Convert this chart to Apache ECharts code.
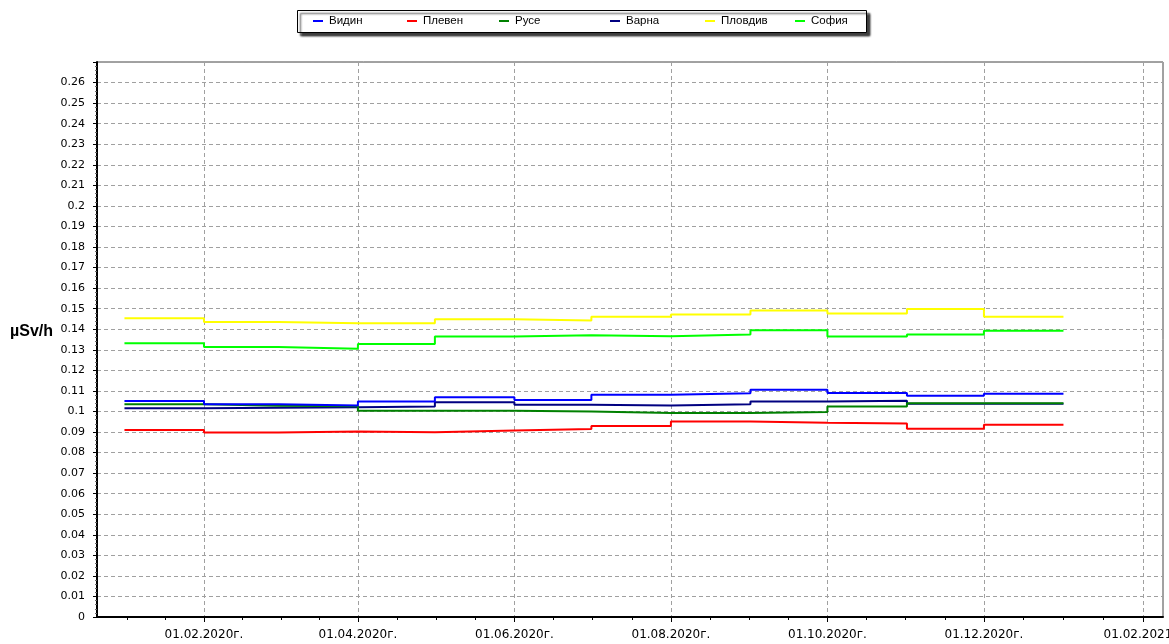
<!DOCTYPE html>
<html lang="bg">
<head>
    <meta charset="UTF-8">
    <title>Радиационен фон</title>
    <script src="https://cdn.jsdelivr.net/npm/echarts@6/dist/echarts.min.js"></script>
    <style>
        html, body { margin: 0; padding: 0; background: #fff; }
    </style>
</head>
<body>
<div id="main" style="width: 1169px;height:644px;"></div>

<script type="text/javascript">
    // месечни стойности (µSv/h), от 01.2020 до 12.2020
    var months = ['2020-01-01', '2020-02-01', '2020-03-01', '2020-04-01', '2020-05-01', '2020-06-01',
        '2020-07-01', '2020-08-01', '2020-09-01', '2020-10-01', '2020-11-01', '2020-12-01'];
    var lastDate = '2021-01-01';

    var names = ['Видин', 'Плевен', 'Русе', 'Варна', 'Пловдив', 'София'];
    var colors = ['#0000ff', '#ff0000', '#008000', '#000080', '#ffff00', '#00ff00'];

    var vidin   = [0.1051, 0.1035, 0.1029, 0.1048, 0.1069, 0.1056, 0.1081, 0.1088, 0.1105, 0.1090, 0.1076, 0.1086];
    var pleven  = [0.0910, 0.0897, 0.0903, 0.0899, 0.0907, 0.0914, 0.0929, 0.0951, 0.0945, 0.0941, 0.0916, 0.0935];
    var ruse    = [0.1035, 0.1028, 0.1025, 0.1003, 0.1003, 0.1000, 0.0992, 0.0992, 0.0997, 0.1024, 0.1040, 0.1040];
    var varna   = [0.1016, 0.1018, 0.1020, 0.1024, 0.1045, 0.1032, 0.1029, 0.1035, 0.1048, 0.1052, 0.1037, 0.1037];
    var plovdiv = [0.1453, 0.1435, 0.1429, 0.1429, 0.1448, 0.1443, 0.1461, 0.1472, 0.1491, 0.1477, 0.1498, 0.1461];
    var sofia   = [0.1332, 0.1314, 0.1305, 0.1328, 0.1364, 0.1371, 0.1366, 0.1374, 0.1395, 0.1364, 0.1374, 0.1392];
    var values = [vidin, pleven, ruse, varna, plovdiv, sofia];

    // надписи по оста X
    var tickDates = ['2020-02-01', '2020-04-01', '2020-06-01', '2020-08-01', '2020-10-01', '2020-12-01', '2021-02-01'];

    function ts(s) {
        var p = s.split('-');
        return Date.UTC(+p[0], +p[1] - 1, +p[2]);
    }
    function pad(n) { return n < 10 ? '0' + n : '' + n; }

    var DAY = 86400000;
    var xMin = ts('2020-02-01') - 41.7 * DAY;
    var xMax = ts('2021-02-01') + 7.8 * DAY;

    var major = tickDates.map(ts);
    var minor = [];
    var q0 = (major[1] - major[0]) / 4;
    minor.push(major[0] - 2 * q0, major[0] - q0);
    for (var i = 0; i < major.length - 1; i++) {
        var q = (major[i + 1] - major[i]) / 4;
        for (var k = 1; k < 4; k++) minor.push(major[i] + q * k);
    }

    var series = [];
    for (var s = 0; s < names.length; s++) {
        var d = [];
        for (var m = 0; m < months.length; m++) d.push([ts(months[m]), values[s][m]]);
        d.push([ts(lastDate), values[s][months.length - 1]]);
        series.push({
            name: names[s],
            type: 'line',
            step: 'end',
            showSymbol: false,
            symbol: 'none',
            z: 10 - s,
            lineStyle: { width: 2, color: colors[s] },
            itemStyle: { color: colors[s] },
            data: d
        });
    }

    var font = 'Liberation Sans, Arial, sans-serif';
    var axisFont = 'DejaVu Sans, sans-serif';

    // легенда: по един елемент на позиция, обща рамка отдолу
    var legendX = [313, 407, 499, 610, 705, 795];
    var legends = names.map(function (n, idx) {
        return {
            data: [n],
            left: legendX[idx],
            top: 15,
            padding: 0,
            icon: 'rect',
            itemWidth: 10,
            itemHeight: 2,
            z: 6,
            textStyle: { fontFamily: font, fontSize: 11.5, color: '#000', padding: [0, 0, 0, 1] }
        };
    });

    var myChart = echarts.init(document.getElementById('main'));
    var option = {
        animation: false,
        backgroundColor: '#fff',
        textStyle: { fontFamily: font },
        legend: legends,
        graphic: [{
            type: 'rect',
            left: 297,
            top: 10,
            z: 1,
            shape: { x: 0, y: 0, width: 569, height: 22 },
            style: {
                fill: '#fff', stroke: '#000', lineWidth: 1,
                shadowBlur: 2, shadowOffsetX: 3, shadowOffsetY: 3, shadowColor: 'rgba(0,0,0,0.75)'
            }
        }, {
            type: 'text',
            left: 10,
            top: 324,
            z: 5,
            style: { text: 'µSv/h', font: 'bold 16px Liberation Sans, Arial, sans-serif', fill: '#000' }
        }],
        grid: {
            left: 97,
            right: 6,
            top: 62,
            bottom: 27,
            outerBoundsMode: 'none',
            containLabel: false,
            show: true,
            borderColor: '#444',
            borderWidth: 1
        },
        xAxis: [{
            type: 'value',
            min: xMin,
            max: xMax,
            axisLine: { show: true, onZero: false, lineStyle: { color: '#000', width: 2 } },
            axisTick: { show: true, length: 5, customValues: major, lineStyle: { color: '#000' } },
            axisLabel: {
                customValues: major,
                color: '#000',
                fontFamily: axisFont,
                fontSize: 12,
                margin: 12,
                hideOverlap: false,
                formatter: function (v) {
                    var dt = new Date(v);
                    return pad(dt.getUTCDate()) + '.' + pad(dt.getUTCMonth() + 1) + '.' + dt.getUTCFullYear() + 'г.';
                }
            },
            splitLine: { show: true, lineStyle: { color: '#a0a0a0', type: [4, 3], width: 1 } }
        }, {
            type: 'value',
            min: xMin,
            max: xMax,
            position: 'bottom',
            axisLine: { show: false },
            axisTick: { show: true, length: 3, customValues: minor, lineStyle: { color: '#000' } },
            axisLabel: { show: false },
            splitLine: { show: false }
        }],
        yAxis: {
            type: 'value',
            min: 0,
            max: 0.27,
            interval: 0.01,
            axisLine: { show: true, lineStyle: { color: '#000', width: 2 } },
            axisTick: { show: true, length: 4, lineStyle: { color: '#000' } },
            minorTick: { show: true, splitNumber: 5, length: 2, lineStyle: { color: '#666' } },
            axisLabel: {
                color: '#000',
                fontFamily: axisFont,
                fontSize: 11,
                margin: 12,
                formatter: function (v) {
                    if (v > 0.2695) return '';
                    return String(+v.toFixed(2));
                }
            },
            splitLine: { show: true, lineStyle: { color: '#a0a0a0', type: [4, 3], width: 1 } }
        },
        series: series
    };
    myChart.setOption(option);
</script>
</body>
</html>
